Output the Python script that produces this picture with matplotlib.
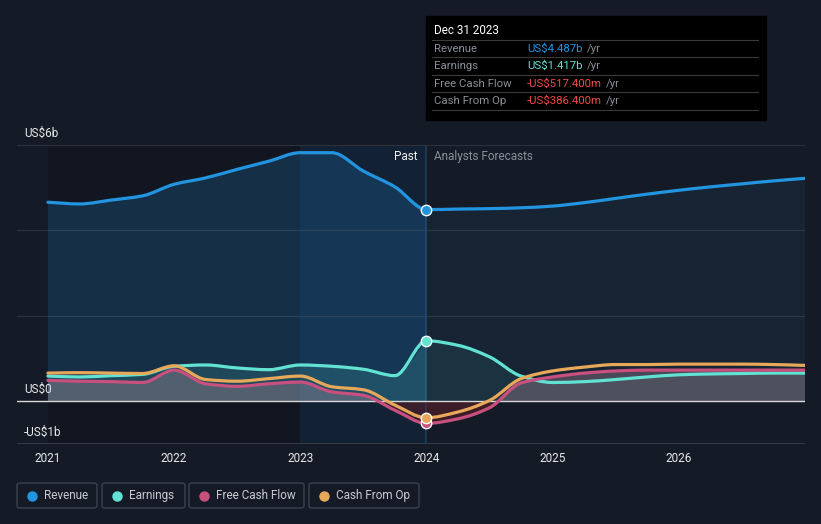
import matplotlib
matplotlib.use("Agg")
import numpy as np
import matplotlib.pyplot as plt
from matplotlib.patches import FancyBboxPatch, Rectangle, PathPatch
from matplotlib.path import Path
from matplotlib.lines import Line2D

plt.rcParams['font.family'] = ['Roboto', 'DejaVu Sans']

# quarterly points, past = 2021.0 .. 2024.0, forecast = 2024.0 .. 2027.0
past_x = [2021.0, 2021.25, 2021.5, 2021.75, 2022.0, 2022.25, 2022.5, 2022.75,
          2023.0, 2023.25, 2023.5, 2023.75, 2024.0]
fcst_x = [2024.0, 2024.25, 2024.5, 2024.75, 2025.0, 2025.25, 2025.5, 2025.75,
          2026.0, 2026.25, 2026.5, 2026.75, 2027.0]

# values in US$ billions
revenue_past = [4.66, 4.62, 4.71, 4.81, 5.08, 5.23, 5.43, 5.62, 5.82, 5.82, 5.39, 5.02, 4.487]
revenue_fcst = [4.487, 4.50, 4.51, 4.53, 4.57, 4.65, 4.75, 4.85, 4.94, 5.02, 5.09, 5.16, 5.22]
earnings_past = [0.59, 0.57, 0.60, 0.63, 0.82, 0.85, 0.78, 0.74, 0.85, 0.82, 0.75, 0.60, 1.417]
earnings_fcst = [1.417, 1.31, 1.04, 0.59, 0.44, 0.46, 0.51, 0.57, 0.62, 0.64, 0.65, 0.66, 0.66]
fcf_past = [0.49, 0.47, 0.46, 0.44, 0.73, 0.41, 0.35, 0.41, 0.45, 0.22, 0.14, -0.21, -0.517]
fcf_fcst = [-0.517, -0.41, -0.15, 0.43, 0.57, 0.66, 0.71, 0.73, 0.73, 0.73, 0.73, 0.73, 0.73]
cfo_past = [0.66, 0.67, 0.66, 0.65, 0.83, 0.51, 0.47, 0.53, 0.59, 0.34, 0.27, -0.09, -0.386]
cfo_fcst = [-0.386, -0.25, 0.02, 0.53, 0.71, 0.80, 0.86, 0.86, 0.87, 0.87, 0.87, 0.86, 0.84]

year_ticks = [2021, 2022, 2023, 2024, 2025, 2026]
y_ticks = [6, 0, -1]
y_tick_labels = ["US$6b", "US$0", "-US$1b"]

series_names = ["Revenue", "Earnings", "Free Cash Flow", "Cash From Op"]
series_colors = ["#2394df", "#62e2d2", "#c8507e", "#e8a85a"]
tooltip_date = "Dec 31 2023"
tooltip_values = ["US$4.487b", "US$1.417b", "-US$517.400m", "-US$386.400m"]
tooltip_colors = ["#2394df", "#62e2d2", "#f04848", "#f04848"]

BG = "#151b26"
W, H = 821, 524


def smooth_path(xs, ys, base=None):
    # monotone cubic bezier through the points (like d3 curveMonotoneX)
    xs = np.asarray(xs, float)
    ys = np.asarray(ys, float)
    n = len(xs)
    d = np.diff(ys) / np.diff(xs)
    m = np.zeros(n)
    m[0], m[-1] = d[0], d[-1]
    for i in range(1, n - 1):
        if d[i - 1] * d[i] <= 0:
            m[i] = 0
        else:
            m[i] = 2 / (1 / d[i - 1] + 1 / d[i])
    verts = [(xs[0], ys[0])]
    codes = [Path.MOVETO]
    for i in range(n - 1):
        h = (xs[i + 1] - xs[i]) / 3
        verts += [(xs[i] + h, ys[i] + m[i] * h),
                  (xs[i + 1] - h, ys[i + 1] - m[i + 1] * h),
                  (xs[i + 1], ys[i + 1])]
        codes += [Path.CURVE4] * 3
    if base is not None:
        verts += [(xs[-1], base), (xs[0], base), (xs[0], ys[0])]
        codes += [Path.LINETO, Path.LINETO, Path.CLOSEPOLY]
    return Path(verts, codes)


fig = plt.figure(figsize=(W / 100, H / 100), dpi=100, facecolor=BG)
ax = fig.add_axes([17 / W, 1 - 444 / H, (805 - 17) / W, (444 - 145) / H])
ax.set_facecolor(BG)
ax.set_xlim(2020.755, 2027.0)
ax.set_ylim(-1, 6)

# background bands
ax.axvspan(2021, 2024, color="#0e1119", alpha=0.45, lw=0, zorder=0)
ax.axvspan(2023, 2024, color="#1f6fb5", alpha=0.13, lw=0, zorder=0.5)

# grid
for g in [6, 4, 2]:
    ax.axhline(g, color="#2c323d", lw=0.8, zorder=1)
ax.axhline(0, color="#d8d8d8", lw=1.0, zorder=6)
ax.axhline(-1, color="#3c424d", lw=1.2, zorder=1)
ax.axvline(2024, color="#1d3d5c", lw=1.2, zorder=1)

rev_c, earn_c, fcf_c, cfo_c = series_colors


def add_fill(xs, ys, color, alpha, z, clip=None):
    p = PathPatch(smooth_path(xs, ys, base=0), fc=color, ec="none", alpha=alpha, zorder=z)
    ax.add_patch(p)
    if clip is not None:
        r = Rectangle((2020, clip[0]), 8, clip[1] - clip[0], transform=ax.transData)
        p.set_clip_path(r)


# fills
add_fill(past_x, revenue_past, rev_c, 0.2, 2)
add_fill(fcst_x, revenue_fcst, rev_c, 0.08, 2)
add_fill(past_x, earnings_past, earn_c, 0.15, 3)
add_fill(fcst_x, earnings_fcst, earn_c, 0.08, 3)
for xs, ys in [(past_x, fcf_past), (fcst_x, fcf_fcst)]:
    add_fill(xs, ys, "#b08a96", 0.35, 3, clip=(0, 6))
    add_fill(xs, ys, "#6a1e2a", 0.45, 3, clip=(-1, 0))

# lines
for ys_p, ys_f, c in [(revenue_past, revenue_fcst, rev_c),
                      (earnings_past, earnings_fcst, earn_c),
                      (fcf_past, fcf_fcst, fcf_c),
                      (cfo_past, cfo_fcst, cfo_c)]:
    pth = smooth_path(past_x + fcst_x[1:], ys_p + ys_f[1:])
    ax.add_patch(PathPatch(pth, fc="none", ec=c, lw=2.3, capstyle="round",
                           joinstyle="round", zorder=7))

# markers at the tooltip date
for ys, c in [(revenue_past, rev_c), (earnings_past, earn_c),
              (fcf_past, fcf_c), (cfo_past, cfo_c)]:
    ax.plot([past_x[-1]], [ys[-1]], "o", ms=7.5, color=c, mec="white",
            mew=1.0, zorder=9, clip_on=False)

for s in ax.spines.values():
    s.set_visible(False)
ax.tick_params(length=0)
ax.set_yticks([])
ax.set_xticks(year_ticks)
ax.set_xticklabels([str(y) for y in year_ticks], color="#e8e8e8", fontsize=8.5)
ax.tick_params(axis="x", pad=6)

for v, lab in zip(y_ticks, y_tick_labels):
    yp = ax.transData.transform((2021, v))[1]
    fig.text(24 / W, (yp + 12) / H, lab, color="#e8e8e8", fontsize=8.5,
             ha="left", va="center")

ax.text(2023.93, 5.72, "Past", color="#f0f0f0", fontsize=8.5, ha="right", va="center")
ax.text(2024.06, 5.72, "Analysts Forecasts", color="#8a9099", fontsize=8.5,
        ha="left", va="center")

# tooltip
fig.add_artist(Rectangle((426 / W, 1 - 120 / H), (766 - 426) / W, (120 - 16) / H,
                         transform=fig.transFigure, color="#000000", zorder=10))
fig.text(434 / W, 1 - 31 / H, tooltip_date, color="white", fontsize=8.4,
         va="center", zorder=11)
row_y = [49, 66, 84, 101]
for i, (name, val, c) in enumerate(zip(series_names, tooltip_values, tooltip_colors)):
    yy = 1 - row_y[i] / H
    fig.add_artist(Line2D([432 / W, 758 / W], [1 - (row_y[i] - 9) / H] * 2,
                          transform=fig.transFigure, color="#3a3a3a", lw=0.8, zorder=11))
    fig.text(434 / W, yy, name, color="#8a8f98", fontsize=8.2, va="center", zorder=11)
    t = fig.text(527 / W, yy, val, color=c, fontsize=8.2, va="center", zorder=11)
    fig.canvas.draw()
    bb = t.get_window_extent()
    fig.text((bb.x1 + 4) / W, yy, "/yr", color="#8a8f98", fontsize=8.2,
             va="center", zorder=11)
fig.add_artist(Line2D([432 / W, 758 / W], [1 - 110 / H] * 2,
                      transform=fig.transFigure, color="#3a3a3a", lw=0.8, zorder=11))

# legend boxes
leg_boxes = [(17, 97), (102, 185), (189, 304), (309, 419)]
for (x0, x1), name, c in zip(leg_boxes, series_names, series_colors):
    fig.add_artist(FancyBboxPatch((x0 / W, 1 - 508 / H), (x1 - x0) / W, 25 / H,
                                  boxstyle="round,pad=0,rounding_size=0.004",
                                  transform=fig.transFigure, fc="none",
                                  ec="#3c424d", lw=1.0))
    fig.add_artist(Line2D([(x0 + 15) / W], [1 - 495.5 / H], marker="o", ms=6.5,
                          color=c, transform=fig.transFigure, lw=0))
    fig.text((x0 + 27) / W, 1 - 495.5 / H, name, color="#c8ccd2", fontsize=8.5,
             va="center")

fig.savefig("out.png", dpi=100, facecolor=BG)
